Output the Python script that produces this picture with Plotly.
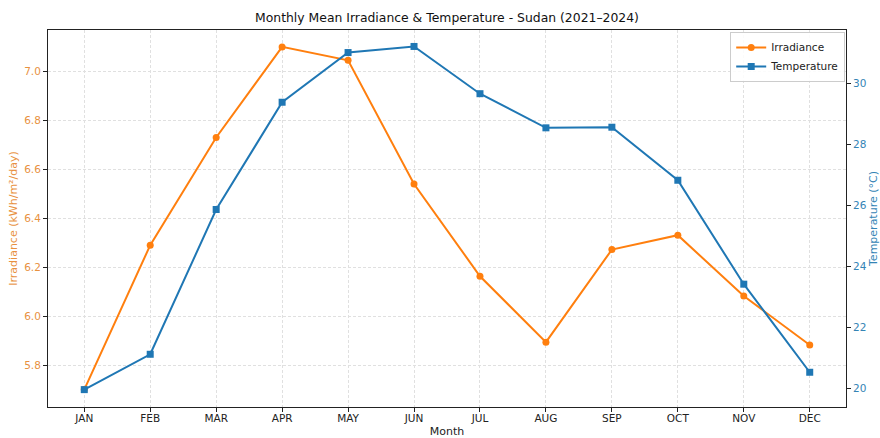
import plotly.graph_objects as go

# Monthly climatology for Sudan, 2021-2024
months = ["JAN", "FEB", "MAR", "APR", "MAY", "JUN",
          "JUL", "AUG", "SEP", "OCT", "NOV", "DEC"]
irradiance = [5.70, 6.29, 6.73, 7.10, 7.045, 6.54,
              6.163, 5.894, 6.272, 6.331, 6.082, 5.882]
temperature = [19.96, 21.12, 25.87, 29.39, 31.02, 31.22,
               29.67, 28.55, 28.57, 26.83, 23.42, 20.53]

irr_ticks = [5.8, 6.0, 6.2, 6.4, 6.6, 6.8, 7.0]
temp_ticks = [20, 22, 24, 26, 28, 30]

ORANGE = "#ff7f0e"
BLUE = "#1f77b4"
ORANGE_TXT = "#e8913f"
BLUE_TXT = "#3484b5"
FONT = "DejaVu Sans"
GRID = "#e0e0e0"

x_idx = list(range(len(months)))

fig = go.Figure()
fig.add_trace(go.Scatter(
    x=x_idx, y=irradiance, name="Irradiance", mode="lines+markers",
    line=dict(color=ORANGE, width=2),
    marker=dict(symbol="circle", size=7, color=ORANGE),
    yaxis="y",
))
fig.add_trace(go.Scatter(
    x=x_idx, y=temperature, name="Temperature", mode="lines+markers",
    line=dict(color=BLUE, width=2),
    marker=dict(symbol="square", size=7, color=BLUE),
    yaxis="y2",
))

fig.update_layout(
    width=880, height=438,
    margin=dict(l=48, r=34, t=30, b=31, autoexpand=False),
    paper_bgcolor="white", plot_bgcolor="white",
    font=dict(family=FONT, size=11, color="#222222"),
    showlegend=True,
    title=dict(
        text="Monthly Mean Irradiance & Temperature - Sudan (2021\u20132024)",
        x=0.5, xref="paper", xanchor="center",
        y=1 - 18 / 438, yref="container", yanchor="middle",
        font=dict(family=FONT, size=12.4, color="#111111"),
    ),
    legend=dict(
        x=0.999, y=0.995, xanchor="right", yanchor="top",
        bgcolor="rgba(255,255,255,0.85)", bordercolor="#cccccc", borderwidth=1,
        font=dict(family=FONT, size=10.5, color="#222222"),
        itemwidth=30, tracegroupgap=0,
    ),
    xaxis=dict(
        range=[-0.55, 11.55], automargin=False,
        tickmode="array", tickvals=x_idx, ticktext=months,
        showline=True, linecolor="#222222", linewidth=1, mirror=True,
        ticks="outside", ticklen=4, tickcolor="#222222",
        ticklabelstandoff=-3,
        showgrid=True, gridcolor=GRID, griddash="3px,2px", gridwidth=0.8,
        zeroline=False,
        tickfont=dict(family=FONT, size=10.5, color="#222222"),
        title=dict(text="Month", standoff=8,
                   font=dict(family=FONT, size=11, color="#222222")),
    ),
    yaxis=dict(
        range=[5.629, 7.169], automargin=False,
        tickmode="array", tickvals=irr_ticks,
        ticktext=[f"{v:.1f}" for v in irr_ticks],
        showline=True, linecolor="#222222", linewidth=1,
        ticks="outside", ticklen=4, tickcolor="#222222",
        showgrid=True, gridcolor=GRID, griddash="3px,2px", gridwidth=0.8,
        zeroline=False,
        tickfont=dict(family=FONT, size=10.5, color=ORANGE_TXT),
        title=dict(text="Irradiance (kWh/m\u00b2/day)", standoff=4,
                   font=dict(family=FONT, size=11, color=ORANGE_TXT)),
    ),
    yaxis2=dict(
        range=[19.39, 31.76], automargin=False,
        overlaying="y", side="right",
        tickmode="array", tickvals=temp_ticks,
        ticktext=[str(v) for v in temp_ticks],
        showline=True, linecolor="#222222", linewidth=1,
        ticks="outside", ticklen=4, tickcolor="#222222",
        showgrid=False, zeroline=False,
        tickfont=dict(family=FONT, size=10.5, color=BLUE_TXT),
        title=dict(text="Temperature (\u00b0C)", standoff=6,
                   font=dict(family=FONT, size=11, color=BLUE_TXT)),
    ),
)

fig.write_html("out.html")
